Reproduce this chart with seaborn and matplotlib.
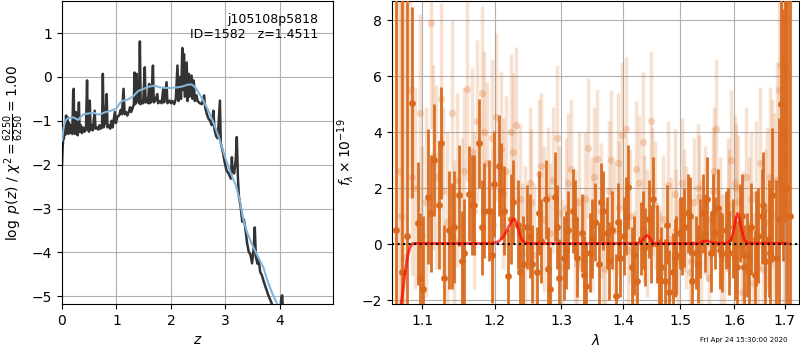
import numpy as np
import matplotlib
matplotlib.use("Agg")
import matplotlib.pyplot as plt
import matplotlib.ticker as mticker
import seaborn as sns

# ---- redshift fit: log p(z) ----
z_fit = [0.000, 0.010, 0.020, 0.035, 0.050, 0.060, 0.075, 0.085, 0.100, 0.115,
         0.130, 0.150, 0.170, 0.190, 0.205, 0.215, 0.225, 0.240, 0.255, 0.270,
         0.290, 0.310, 0.325, 0.345, 0.365, 0.390, 0.410, 0.440, 0.460, 0.475,
         0.495, 0.510, 0.525, 0.545, 0.565, 0.600, 0.615, 0.640, 0.665, 0.690,
         0.710, 0.735, 0.750, 0.765, 0.790, 0.820, 0.835, 0.860, 0.885, 0.910,
         0.930, 0.970, 0.990, 1.020, 1.050, 1.080, 1.100, 1.130, 1.150, 1.175,
         1.200, 1.230, 1.250, 1.270, 1.300, 1.320, 1.330, 1.345, 1.370, 1.385,
         1.400, 1.415, 1.430, 1.445, 1.470, 1.490, 1.520, 1.535, 1.560, 1.580,
         1.600, 1.615, 1.640, 1.670, 1.685, 1.710, 1.750, 1.765, 1.800, 1.830,
         1.860, 1.875, 1.920, 1.935, 1.960, 1.980, 2.000, 2.030, 2.060, 2.090,
         2.120, 2.140, 2.170, 2.185, 2.210, 2.225, 2.240, 2.255, 2.290, 2.305,
         2.330, 2.345, 2.380, 2.395, 2.420, 2.440, 2.470, 2.490, 2.530, 2.570,
         2.610, 2.630, 2.660, 2.690, 2.720, 2.750, 2.780, 2.800, 2.830, 2.860,
         2.900, 2.915, 2.950, 2.960, 2.980, 3.020, 3.040, 3.060, 3.100, 3.120,
         3.130, 3.160, 3.190, 3.210, 3.230, 3.250, 3.280, 3.310, 3.340, 3.360,
         3.400, 3.430, 3.460, 3.490, 3.520, 3.540, 3.560, 3.590, 3.610, 3.640,
         3.670, 3.700, 3.740, 3.790, 3.850, 3.900, 3.950, 4.000, 4.030, 4.045,
         4.060, 4.100, 4.300]
logp_fit = [-2.00, -1.65, -1.45, -1.40, -1.20, -1.32, -0.88, -1.25, -0.92, -1.30,
            -1.05, -1.28, -1.10, -1.30, -0.35, -0.27, -1.20, -1.30, -0.80, -1.30,
            -1.33, -0.58, -1.25, -1.10, -1.28, -1.15, -1.25, -1.20, -0.08, -1.15,
            -1.25, -0.54, -1.20, -1.10, -1.22, -0.77, -1.18, -1.15, -1.20, -1.10,
            -1.18, -1.15, 0.07, -1.15, -1.05, -0.39, -1.15, -1.10, -1.18, -1.00,
            -1.15, -0.80, -1.05, -0.90, -0.88, -0.75, -0.85, -0.27, -0.85, -0.80,
            -0.88, -0.78, -0.69, -0.80, -0.70, -0.62, 0.10, -0.62, 0.07, -0.55,
            -0.50, -0.60, 0.81, -0.62, -0.55, -0.60, 0.22, -0.58, -0.50, -0.60,
            -0.16, -0.60, -0.55, 0.26, -0.58, -0.55, -0.39, -0.60, -0.55, -0.60,
            -0.27, -0.58, -0.12, -0.60, -0.55, -0.54, -0.60, -0.55, -0.62, -0.50,
            0.26, -0.55, 0.00, -0.50, 0.66, -0.30, 0.52, -0.45, 0.33, -0.55,
            0.07, -0.45, 0.03, -0.50, -0.08, -0.55, -0.42, -0.55, -0.60, -0.62,
            -0.42, -0.70, -0.85, -0.95, -1.00, -1.10, -0.77, -1.20, -1.35, -1.40,
            -0.54, -1.50, -1.70, -1.75, -1.90, -2.13, -2.17, -2.20, -2.32, -1.83,
            -2.10, -2.20, -1.90, -1.37, -2.30, -2.75, -2.95, -3.30, -3.25, -3.39,
            -3.80, -3.99, -4.05, -4.25, -3.90, -3.43, -4.10, -4.26, -4.15, -4.45,
            -4.52, -4.65, -4.80, -4.98, -5.16, -5.40, -5.60, -5.50, -5.00, -4.98,
            -5.50, -6.00, -6.50]

# smoothed p(z)
z_smooth = [0.00, 0.03, 0.06, 0.10, 0.15, 0.20, 0.25, 0.30, 0.35, 0.40, 0.50,
            0.60, 0.65, 0.70, 0.80, 0.90, 1.00, 1.05, 1.10, 1.20, 1.30, 1.40,
            1.50, 1.60, 1.70, 1.80, 1.90, 2.00, 2.10, 2.20, 2.30, 2.38, 2.45,
            2.52, 2.60, 2.70, 2.80, 2.90, 3.00, 3.10, 3.20, 3.27, 3.33, 3.40,
            3.50, 3.60, 3.70, 3.76, 3.85, 3.96, 4.05]
logp_smooth = [-1.45, -1.15, -1.00, -0.95, -0.93, -0.92, -0.95, -0.98, -0.90,
               -0.85, -0.83, -0.82, -0.86, -0.85, -0.80, -0.77, -0.72, -0.62,
               -0.55, -0.52, -0.45, -0.32, -0.27, -0.22, -0.20, -0.24, -0.25,
               -0.25, -0.24, -0.22, -0.18, -0.17, -0.24, -0.38, -0.55, -0.80,
               -1.10, -1.45, -1.85, -2.20, -2.50, -2.85, -3.25, -3.55, -3.85,
               -4.10, -4.35, -4.60, -4.90, -5.20, -5.45]

# ---- spectrum (binned, dark), two beams ----
wave_bin = [1.066, 1.073, 1.080, 1.087, 1.094, 1.101, 1.108, 1.115, 1.122, 1.129,
            1.136, 1.143, 1.150, 1.157, 1.164, 1.171, 1.178, 1.185, 1.192, 1.199,
            1.206, 1.213, 1.220, 1.227, 1.234, 1.241, 1.248, 1.255, 1.262, 1.269,
            1.276, 1.283, 1.290, 1.297, 1.304, 1.311, 1.318, 1.325, 1.332, 1.339,
            1.346, 1.353, 1.360, 1.367, 1.374, 1.381, 1.388, 1.395, 1.402, 1.409,
            1.416, 1.423, 1.430, 1.437, 1.444, 1.451, 1.458, 1.465, 1.472, 1.479,
            1.486, 1.493, 1.500, 1.507, 1.514, 1.521, 1.528, 1.535, 1.542, 1.549,
            1.556, 1.563, 1.570, 1.577, 1.584, 1.591, 1.598, 1.605, 1.612, 1.619,
            1.626, 1.633, 1.640, 1.647, 1.654, 1.661, 1.668, 1.675, 1.682, 1.689,
            1.696, 1.700, 1.705, 1.711]
flux_bin = [0.5, -1.0, 0.3, 5.05, 0.75, -1.6, 1.7, 3.0, 1.4, -1.2,
            0.5, 0.6, 1.75, -0.3, 1.8, 1.4, 3.6, 1.2, 1.2, 2.15,
            2.8, 1.2, -1.15, 1.5, 0.7, -0.7, 0.6, -0.7, -1.0, 0.1,
            1.6, -1.6, 1.7, -1.2, -0.5, 0.5, 1.2, -0.5, 0.4, -1.5,
            -0.3, 0.8, -0.7, 1.2, 0.4, 0.5, -1.85, -0.5, 0.3, 2.05,
            -0.8, -1.3, 0.2, -0.1, 0.9, 1.6, 0.0, -0.8, -1.3, -1.7,
            -1.0, -0.4, 0.4, 0.6, 1.1, -1.3, -0.3, 0.2, 1.1, 1.6,
            -0.3, 0.4, 1.3, -0.3, 0.5, -0.3, 0.2, -0.8, 0.75, -0.8,
            -0.4, 0.6, -1.1, 0.3, 1.0, -0.6, 0.2, 1.75, -0.5, 0.9,
            3.9, 6.3, 2.0, 1.0]
err_bin = [12.0, 12.0, 9.0, 3.4, 2.2, 2.6, 2.4, 2.0, 2.3, 1.9,
           2.1, 2.0, 1.8, 1.9, 1.7, 1.8, 1.6, 1.7, 1.8, 1.9,
           1.8, 1.6, 1.7, 1.5, 1.6, 1.7, 1.5, 1.4, 1.6, 1.5,
           1.4, 1.5, 1.6, 1.4, 1.5, 1.4, 1.5, 1.4, 1.4, 1.5,
           1.4, 1.4, 1.5, 1.4, 1.3, 1.4, 1.5, 1.4, 1.4, 1.5,
           1.4, 1.4, 1.3, 1.4, 1.4, 1.5, 1.4, 1.4, 1.5, 1.5,
           1.4, 1.4, 1.3, 1.4, 1.4, 1.4, 1.3, 1.4, 1.4, 1.5,
           1.4, 1.3, 1.4, 1.4, 1.4, 1.5, 1.4, 1.5, 1.4, 1.5,
           1.5, 1.6, 1.6, 1.7, 1.7, 1.9, 2.1, 2.4, 2.8, 3.6,
           4.5, 5.5, 12.0, 12.0]

wave_bin2 = [1.0975, 1.1115, 1.1255, 1.1395, 1.1535, 1.1675, 1.1815, 1.1955,
             1.2095, 1.2235, 1.2375, 1.2515, 1.2655, 1.2795, 1.2935, 1.3075,
             1.3215, 1.3355, 1.3495, 1.3635, 1.3775, 1.3915, 1.4055, 1.4195,
             1.4335, 1.4475, 1.4615, 1.4755, 1.4895, 1.5035, 1.5175, 1.5315,
             1.5455, 1.5595, 1.5735, 1.5875, 1.6015, 1.6155, 1.6295, 1.6435,
             1.6575, 1.6715, 1.6925]
flux_bin2 = [-1.2, 1.1, 3.6, 0.3, -0.6, 1.4, 0.6, -0.4, 1.9, 0.9,
             -1.0, 0.3, 1.1, -0.9, 0.6, -0.2, 0.9, -1.1, 0.2, 1.5,
             -0.6, 0.8, 1.0, -0.4, 0.5, 0.0, -1.2, 0.7, -0.5, 0.3,
             1.0, -0.7, 0.4, 1.1, -0.2, 0.6, -0.5, 1.0, -1.0, 0.2,
             1.4, -0.3, 5.0]
err_bin2 = [2.3, 2.1, 2.0, 1.9, 1.8, 1.8, 1.7, 1.7, 1.7, 1.6,
            1.6, 1.5, 1.5, 1.5, 1.5, 1.4, 1.4, 1.4, 1.4, 1.4,
            1.4, 1.4, 1.4, 1.4, 1.4, 1.4, 1.4, 1.4, 1.4, 1.4,
            1.4, 1.4, 1.4, 1.4, 1.4, 1.4, 1.5, 1.5, 1.6, 1.7,
            1.9, 2.3, 5.0]

# ---- spectrum (unbinned, light), two beams ----
wave_raw = [1.0695, 1.0765, 1.0835, 1.0905, 1.0975, 1.1045, 1.1115, 1.1185,
            1.1255, 1.1325, 1.1395, 1.1465, 1.1535, 1.1605, 1.1675, 1.1745,
            1.1815, 1.1885, 1.1955, 1.2025, 1.2095, 1.2165, 1.2235, 1.2305,
            1.2375, 1.2445, 1.2515, 1.2585, 1.2655, 1.2725, 1.2795, 1.2865,
            1.2935, 1.3005, 1.3075, 1.3145, 1.3215, 1.3285, 1.3355, 1.3425,
            1.3495, 1.3565, 1.3635, 1.3705, 1.3775, 1.3845, 1.3915, 1.3985,
            1.4055, 1.4125, 1.4195, 1.4265, 1.4335, 1.4405, 1.4475, 1.4545,
            1.4615, 1.4685, 1.4755, 1.4825, 1.4895, 1.4965, 1.5035, 1.5105,
            1.5175, 1.5245, 1.5315, 1.5385, 1.5455, 1.5525, 1.5595, 1.5665,
            1.5735, 1.5805, 1.5875, 1.5945, 1.6015, 1.6085, 1.6155, 1.6225,
            1.6295, 1.6365, 1.6435, 1.6505, 1.6575, 1.6645, 1.6715, 1.6785,
            1.6855, 1.6925, 1.6995, 1.7065]
flux_raw = [2.6, -0.5, 5.5, 2.0, 4.7, 1.5, 7.9, 2.4, 5.2, 0.8,
            4.7, 2.3, 0.6, 5.55, 3.3, 4.4, 5.4, 2.9, 3.8, 4.55,
            3.4, 2.6, 4.0, 4.25, 1.6, 0.2, 2.2, -0.4, 2.5, 0.9,
            1.7, 2.3, 3.8, -0.8, 1.3, 2.7, 0.3, 1.5, -0.6, 3.45,
            0.7, 3.05, 1.2, -0.9, 1.9, 0.5, 2.9, 3.9, 4.1, 1.0,
            -1.1, 2.2, 3.65, 0.4, 4.4, 1.4, -0.8, 0.9, -1.4, 0.2,
            1.8, -0.6, 2.2, 0.6, -1.0, 1.5, 2.0, 0.1, 1.2, -1.2,
            1.9, 4.1, 0.8, -0.5, 1.4, 3.0, 2.2, 1.5, -1.7, 2.4,
            0.7, -1.4, 1.8, 2.9, -0.9, 1.3, 2.4, 1.0, 2.3, 6.4,
            4.0, 1.5]
err_raw = [12.0, 10.0, 3.8, 3.6, 3.5, 3.4, 3.8, 3.3, 3.4, 3.2,
           3.3, 3.1, 3.2, 3.3, 3.0, 2.9, 3.1, 2.9, 2.8, 3.0,
           2.8, 2.7, 2.8, 2.8, 2.7, 2.6, 2.7, 2.6, 2.7, 2.6,
           2.5, 2.6, 2.6, 2.4, 2.5, 2.5, 2.4, 2.5, 2.4, 2.5,
           2.4, 2.5, 2.4, 2.4, 2.5, 2.4, 2.5, 2.6, 2.6, 2.4,
           2.3, 2.4, 2.5, 2.3, 2.5, 2.3, 2.2, 2.3, 2.2, 2.2,
           2.3, 2.2, 2.3, 2.2, 2.2, 2.3, 2.3, 2.2, 2.3, 2.2,
           2.3, 2.5, 2.3, 2.3, 2.4, 2.5, 2.4, 2.4, 2.3, 2.5,
           2.4, 2.5, 2.6, 2.7, 2.7, 2.9, 3.2, 3.7, 4.2, 5.5,
           6.5, 10.0]

wave_raw2 = [1.072, 1.086, 1.100, 1.114, 1.128, 1.142, 1.156, 1.170, 1.184,
             1.198, 1.212, 1.226, 1.240, 1.254, 1.268, 1.282, 1.296, 1.310,
             1.324, 1.338, 1.352, 1.366, 1.380, 1.394, 1.408, 1.422, 1.436,
             1.450, 1.464, 1.478, 1.492, 1.506, 1.520, 1.534, 1.548, 1.562,
             1.576, 1.590, 1.604, 1.618, 1.632, 1.646, 1.660, 1.674, 1.688,
             1.702]
flux_raw2 = [1.0, 2.4, 0.3, 3.1, 1.9, 0.1, 2.6, 1.2, 4.0, 0.7,
             1.8, 3.3, -0.3, 1.5, 2.8, 0.4, 1.1, 2.2, -0.7, 1.6,
             2.4, 0.2, 3.0, 1.3, -0.2, 2.7, 0.9, 1.9, -1.0, 2.1,
             0.5, 1.2, -0.6, 1.7, 0.9, 2.6, -0.4, 1.1, 2.0, 0.3,
             1.6, -0.8, 0.8, 2.2, 5.5, 3.0]
err_raw2 = [10.0, 3.5, 3.2, 3.3, 3.0, 2.9, 3.0, 2.8, 2.9, 2.7,
            2.7, 2.8, 2.5, 2.6, 2.6, 2.5, 2.4, 2.5, 2.4, 2.4,
            2.5, 2.3, 2.5, 2.4, 2.3, 2.4, 2.3, 2.3, 2.2, 2.3,
            2.2, 2.2, 2.2, 2.2, 2.2, 2.3, 2.2, 2.3, 2.3, 2.3,
            2.4, 2.5, 2.6, 3.0, 5.0, 10.0]

# ---- best-fit model ----
wave_model = [1.070, 1.074, 1.078, 1.081, 1.084, 1.087, 1.090, 1.195, 1.205,
              1.212, 1.218, 1.222, 1.226, 1.229, 1.232, 1.236, 1.240, 1.245,
              1.250, 1.425, 1.432, 1.437, 1.441, 1.445, 1.450, 1.455, 1.535,
              1.542, 1.548, 1.555, 1.562, 1.585, 1.594, 1.600, 1.604, 1.607,
              1.610, 1.614, 1.620, 1.626, 1.705]
flux_model = [-2.5, -1.8, -0.9, -0.4, -0.1, 0.02, 0.03, 0.03, 0.08,
              0.25, 0.5, 0.7, 0.88, 0.9, 0.75, 0.4, 0.15, 0.04,
              0.03, 0.03, 0.1, 0.25, 0.32, 0.25, 0.08, 0.03, 0.03,
              0.1, 0.12, 0.08, 0.04, 0.03, 0.15, 0.55, 0.95, 1.1,
              0.95, 0.55, 0.15, 0.04, 0.03]

orange = "#d96a1d"

fig = plt.figure(figsize=(8, 3.5), dpi=100)
ax1 = fig.add_axes([0.0775, 0.131, 0.339, 0.866])
ax2 = fig.add_axes([0.49, 0.131, 0.509, 0.866])

# left panel
sns.lineplot(x=z_smooth, y=logp_smooth, ax=ax1, color="#84b5da", lw=1.5,
             estimator=None, zorder=3)
sns.lineplot(x=z_fit, y=logp_fit, ax=ax1, color="0.2", lw=1.8,
             estimator=None, zorder=2)
ax1.set_xlim(0, 4.98)
ax1.set_ylim(-5.18, 1.73)
ax1.set_xticks([0, 1, 2, 3, 4])
ax1.set_yticks([1, 0, -1, -2, -3, -4, -5])
ax1.grid(True)
ax1.set_xlabel("$z$")
ax1.set_ylabel(r"$\log\ p(z)$ / $\chi^2=\frac{6250}{6250}=1.00$")
ax1.text(0.945, 0.96, "j105108p5818\nID=1582   z=1.4511", transform=ax1.transAxes,
         ha="right", va="top", fontsize=9)

# right panel
wave_light = wave_raw + wave_raw2
flux_light = flux_raw + flux_raw2
err_light = err_raw + err_raw2
ax2.errorbar(wave_light, flux_light, yerr=err_light, fmt="none", ecolor=orange,
             elinewidth=2.5, alpha=0.2, zorder=2)
sns.scatterplot(x=wave_light, y=flux_light, ax=ax2, color=orange, alpha=0.25,
                s=28, linewidth=0, zorder=2)

wave_dark = wave_bin + wave_bin2
flux_dark = flux_bin + flux_bin2
err_dark = err_bin + err_bin2
ax2.errorbar(wave_dark, flux_dark, yerr=err_dark, fmt="none", ecolor=orange,
             elinewidth=2.0, alpha=0.95, zorder=3)
sns.scatterplot(x=wave_dark, y=flux_dark, ax=ax2, color=orange, s=24,
                linewidth=0, zorder=3)
sns.lineplot(x=wave_model, y=flux_model, ax=ax2, color="red", lw=2,
             alpha=0.7, estimator=None, zorder=4)
ax2.axhline(0, color="k", ls=":", lw=1.5, zorder=5)

ax2.set_xscale("log")
ax2.set_xlim(1.0606, 1.7303)
ax2.xaxis.set_major_locator(mticker.FixedLocator([1.1, 1.2, 1.3, 1.4, 1.5, 1.6, 1.7]))
ax2.xaxis.set_major_formatter(mticker.FormatStrFormatter("%.1f"))
ax2.xaxis.set_minor_locator(mticker.NullLocator())
ax2.set_ylim(-2.14, 8.68)
ax2.set_yticks([-2, 0, 2, 4, 6, 8])
ax2.grid(True)
ax2.set_xlabel(r"$\lambda$")
ax2.set_ylabel(r"$f_\lambda\times10^{-19}$")

fig.text(0.985, 0.02, "Fri Apr 24 15:30:00 2020", ha="right", va="bottom",
         fontsize=5)

fig.savefig("out.png", dpi=100)
